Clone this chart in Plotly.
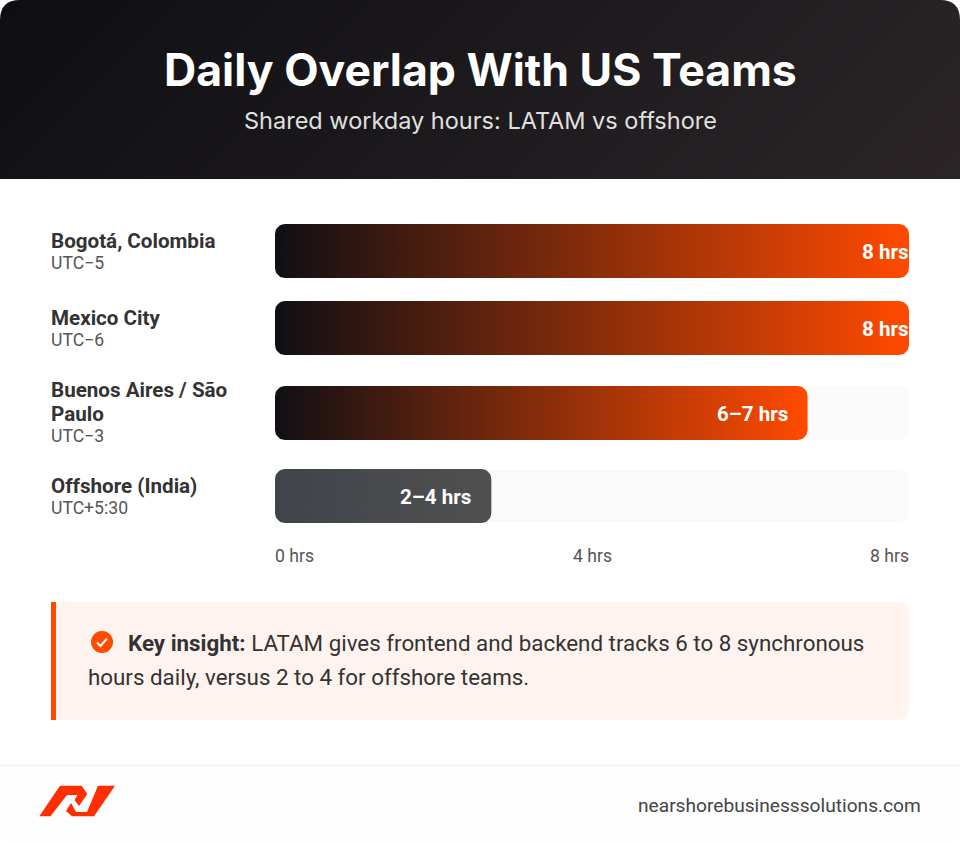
import numpy as np
import plotly.graph_objects as go

# data
cities = ["Bogotá, Colombia", "Mexico City", "Buenos Aires / São<br>Paulo", "Offshore (India)"]
zones = ["UTC−5", "UTC−6", "UTC−3", "UTC+5:30"]
hours = [8, 8, 6.72, 2.73]
bar_labels = ["8 hrs", "8 hrs", "6–7 hrs", "2–4 hrs"]
tick_vals = [0, 4, 8]
tick_text = ["0 hrs", "4 hrs", "8 hrs"]
track_max = 8

W, H = 960, 843
X0, X1 = 275, 909
HEAD_H = 179
row_y = [251, 328, 413, 496]
BAR_H = 54
RADIUS = 10
px_per_hr = (X1 - X0) / track_max

ORANGE = "#ff4a00"
DARK = "#100f14"


def rounded_bar(value, yc):
    # outline of a bar in axis units, corners are in pixels
    rx = RADIUS / px_per_hr
    t = np.linspace(0, np.pi / 2, 9)
    top, bot = yc - BAR_H / 2, yc + BAR_H / 2
    xs = np.concatenate([rx - rx * np.cos(t), value - rx + rx * np.sin(t),
                         value - rx + rx * np.cos(t), rx - rx * np.sin(t)])
    ys = np.concatenate([top + RADIUS - RADIUS * np.sin(t), top + RADIUS - RADIUS * np.cos(t),
                         bot - RADIUS + RADIUS * np.sin(t), bot - RADIUS + RADIUS * np.cos(t)])
    return list(xs) + [xs[0]], list(ys) + [ys[0]]


fig = go.Figure()

# header, 135deg gradient
fig.add_trace(go.Heatmap(x=[0, W], y=[0, HEAD_H], z=[[0, W / (W + HEAD_H)], [HEAD_H / (W + HEAD_H), 1]],
                         xaxis="x3", yaxis="y3", zsmooth="best", showscale=False, hoverinfo="skip",
                         zmin=0, zmax=1, colorscale=[[0, "#0e0e13"], [1, "#2b2527"]]))

# tracks
fig.add_trace(go.Bar(x=[track_max] * 4, y=row_y, width=BAR_H, orientation="h", hoverinfo="skip",
                     marker=dict(color="#fafafa", line_width=0), showlegend=False))

# filled bars with a left to right gradient
for i, (v, yc) in enumerate(zip(hours, row_y)):
    xs, ys = rounded_bar(v, yc)
    scale = [[0, "#40444b"], [1, "#505050"]] if i == 3 else [[0, DARK], [1, ORANGE]]
    fig.add_trace(go.Scatter(x=xs, y=ys, mode="lines", line_width=0, fill="toself", showlegend=False,
                             fillgradient=dict(type="horizontal", colorscale=scale),
                             name=cities[i].replace("<br>", " "), hoverinfo="name"))

shapes = []
# corners of the header
shapes.append(dict(type="path", xref="x2", yref="y2", layer="above", line_width=0, fillcolor="white",
                   path="M0 0 L20 0 Q0 0 0 20 Z"))
shapes.append(dict(type="path", xref="x2", yref="y2", layer="above", line_width=0, fillcolor="white",
                   path="M960 0 L940 0 Q960 0 960 20 Z"))
# insight box
shapes.append(dict(type="path", xref="x2", yref="y2", layer="below", line_width=0, fillcolor="#fff3ef",
                   path="M51 602 L897 602 Q909 602 909 614 L909 708 Q909 720 897 720 L51 720 Z"))
shapes.append(dict(type="rect", xref="x2", yref="y2", layer="below", line_width=0, fillcolor="#ff4a00",
                   x0=51, x1=56, y0=602, y1=720))
shapes.append(dict(type="circle", xref="x2", yref="y2", line_width=0, fillcolor="#ff4a00",
                   x0=91, x1=113, y0=631, y1=653))
shapes.append(dict(type="path", xref="x2", yref="y2", line=dict(color="white", width=2),
                   path="M97 642.5 L100.5 646 L107 638.5"))
# footer
shapes.append(dict(type="path", xref="x2", yref="y2", layer="below", line_width=0, fillcolor="#fefefe",
                   path="M0 766 L960 766 L960 823 Q960 843 940 843 L20 843 Q0 843 0 823 Z"))
shapes.append(dict(type="line", xref="x2", yref="y2", x0=0, x1=960, y0=765.5, y1=765.5,
                   line=dict(color="#eeeeee", width=1)))
# logo
shapes.append(dict(type="path", xref="x2", yref="y2", line_width=0, fillcolor="#ff2e00",
                   path="M39.3 816.3 L60 785.7 L81.7 785.7 L87.3 794 L79 806 L74.5 800 L77.5 795 L67 795 L50.5 816.3 Z"))
shapes.append(dict(type="path", xref="x2", yref="y2", line_width=0, fillcolor="#ff2e00",
                   path="M66 811 L71 803 L76 812 L87 812 L98 785.7 L115 785.7 L94 816.3 L72 816.3 Z"))

annotations = []


def label(x, y, text, size, color, anchor="left", family="Roboto"):
    annotations.append(dict(xref="x2", yref="y2", x=x, y=y, text=text, showarrow=False, xanchor=anchor,
                            yanchor="middle", borderpad=0, borderwidth=0,
                            font=dict(family=family, size=size, color=color)))


label(480, 70, "<b>Daily Overlap With US Teams</b>", 44.6, "white", "center", "Inter")
label(480, 120, "Shared workday hours: LATAM vs offshore", 23.5, "#e0e0e0", "center", "Inter")

# row labels, wrapped names get a tighter line gap than plotly's <br>
name_y = [241, 318, 390, 486]
zone_y = [263, 340, 436, 508]
LINE_GAP = 23.5
for name, zone, ny, zy in zip(cities, zones, name_y, zone_y):
    for j, part in enumerate(name.split("<br>")):
        label(51, ny + j * LINE_GAP, "<b>" + part + "</b>", 20.6, "#333333")
    label(51, zy, zone, 17.6, "#555555")

# bar value labels, anchored at the bar ends
for v, yc, t in zip(hours, row_y, bar_labels):
    pad = 0 if v == track_max else 20
    annotations.append(dict(xref="x", yref="y", x=v, y=yc + 1, text="<b>" + t + "</b>", showarrow=False,
                            xanchor="right", xshift=-pad, yanchor="middle", borderpad=0, borderwidth=0,
                            font=dict(family="Roboto", size=20.6, color="white")))

label(128, 643, "<b>Key insight:</b> LATAM gives frontend and backend tracks 6 to 8 synchronous", 22.35, "#333333")
label(88, 677, "hours daily, versus 2 to 4 for offshore teams.", 22.35, "#333333")
label(921, 805, "nearshorebusinesssolutions.com", 19.15, "#444444", "right")

# hour axis labels, spread over the track
for v, t, a in zip(tick_vals, tick_text, ["left", "center", "right"]):
    annotations.append(dict(xref="x", yref="y2", x=v, y=555.5, text=t, showarrow=False, xanchor=a, yanchor="middle",
                            borderpad=0, borderwidth=0, font=dict(family="Roboto", size=17.6, color="#555555")))

fig.update_layout(
    width=W, height=H, margin=dict(l=0, r=0, t=0, b=0), paper_bgcolor="white", plot_bgcolor="rgba(0,0,0,0)",
    showlegend=False, barcornerradius=10, shapes=shapes, annotations=annotations,
    font=dict(family="Roboto"),
    xaxis=dict(domain=[X0 / W, X1 / W], range=[0, track_max], visible=False, anchor="y"),
    yaxis=dict(domain=[0, 1], range=[H, 0], visible=False, anchor="x"),
    xaxis2=dict(domain=[0, 1], range=[0, W], visible=False, anchor="y2"),
    yaxis2=dict(domain=[0, 1], range=[H, 0], visible=False, anchor="x2"),
    xaxis3=dict(domain=[0, 1], range=[0, W], visible=False, anchor="y3"),
    yaxis3=dict(domain=[1 - HEAD_H / H, 1], range=[HEAD_H, 0], visible=False, anchor="x3"),
)

fig.write_html("out.html", config=dict(displayModeBar=False),
               post_script="document.body.style.margin='0';")
